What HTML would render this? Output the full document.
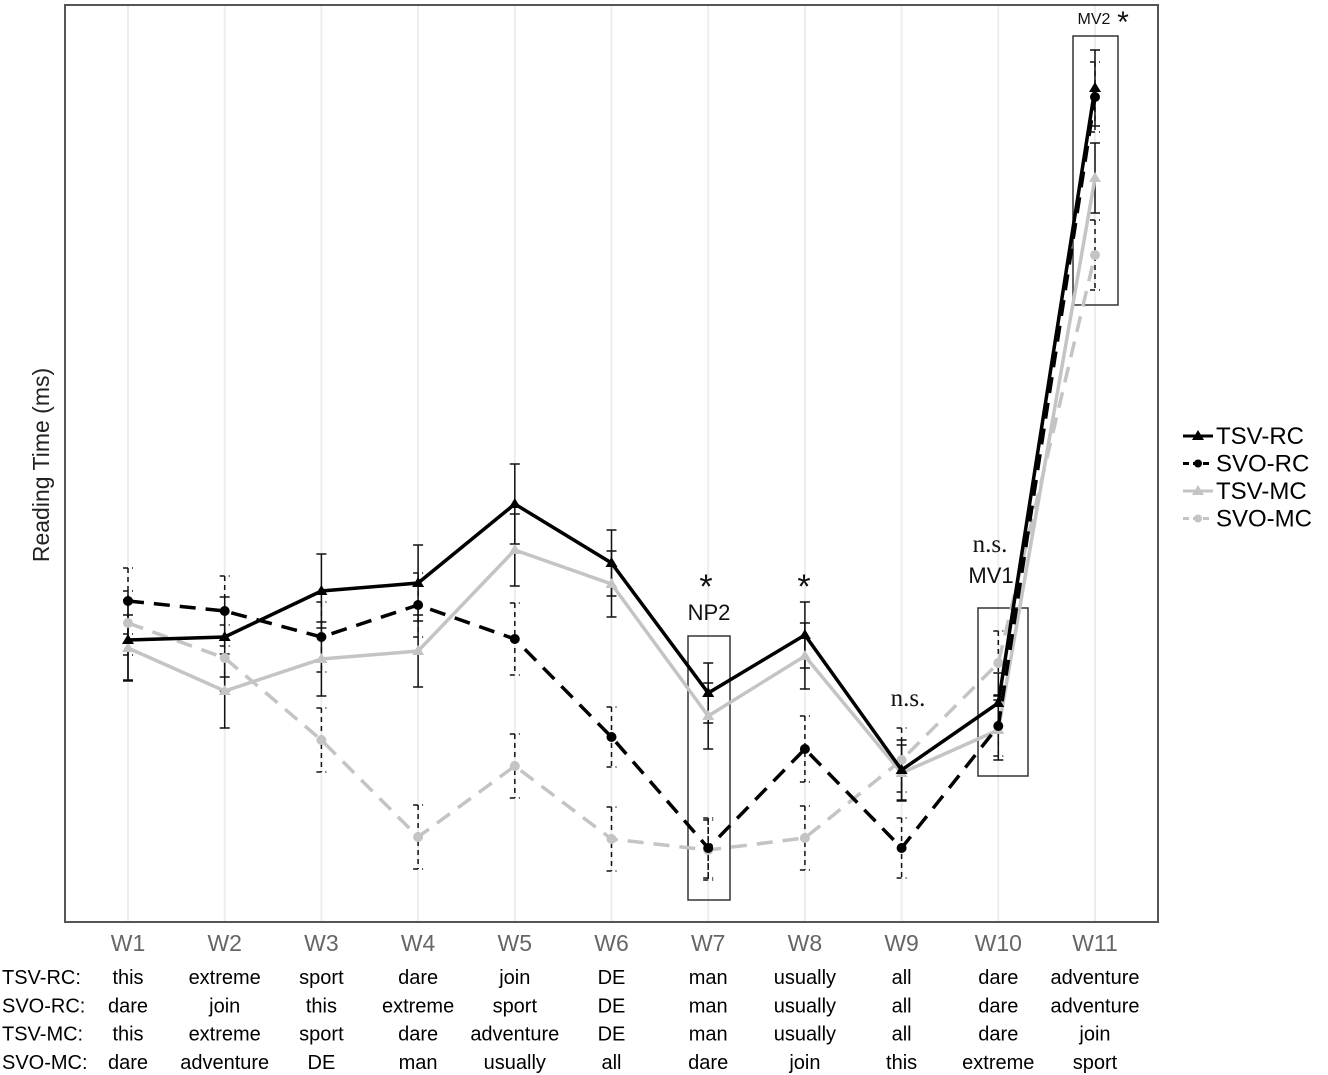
<!DOCTYPE html>
<html><head><meta charset="utf-8"><style>
body{margin:0;background:#fff;width:1328px;height:1075px;overflow:hidden}
svg{display:block}
</style></head><body>
<svg id="c" width="1328" height="1075" xmlns="http://www.w3.org/2000/svg">
<rect x="65" y="5" width="1093" height="917" fill="#fff" stroke="#555" stroke-width="2"/>
<g id="grid"></g><g id="boxes"></g><g id="series"></g><g id="anno"></g><g id="xlab"></g><g id="table"></g>
<text transform="translate(49,465) rotate(-90)" text-anchor="middle" font-family="Liberation Sans, sans-serif" font-size="23" fill="#222">Reading Time (ms)</text>
<g id="legend"></g>
</svg>
<script>
const categories=["W1","W2","W3","W4","W5","W6","W7","W8","W9","W10","W11"];
const tsvRC=[282,285,331,339,418,359,229,287,152,219,834];
const svoRC=[321,311,285,317,283,185,74,173,74,196,825];
const tsvMC=[274,231,263,271,372,338,206,266,149,192,744];
const svoMC=[299,264,182,85,156,83,72,84,162,259,667];
const errTSVRC=[40,40,37,38,40,33,30,33,30,30,38];
const errSVORC=[33,35,35,32,36,30,30,33,30,30,35];
const errTSVMC=[33,37,37,36,36,33,33,33,28,30,35];
const errSVOMC=[32,33,32,32,32,32,30,32,32,32,35];
const rowTSVRC=["this","extreme","sport","dare","join","DE","man","usually","all","dare","adventure"];
const rowSVORC=["dare","join","this","extreme","sport","DE","man","usually","all","dare","adventure"];
const rowTSVMC=["this","extreme","sport","dare","adventure","DE","man","usually","all","dare","join"];
const rowSVOMC=["dare","adventure","DE","man","usually","all","dare","join","this","extreme","sport"];
const NS="http://www.w3.org/2000/svg";
const X=i=>128+i*96.7, Y=v=>922-v;
function mk(p,tag,at){const e=document.createElementNS(NS,tag);for(const k in at)e.setAttribute(k,at[k]);document.getElementById(p).appendChild(e);return e;}
categories.forEach((c,i)=>{
 let g=mk('grid','line',{x1:X(i),x2:X(i),y1:6,y2:921,stroke:'#ededed','stroke-width':2});
 
 
 let t=mk('xlab','text',{x:X(i),y:951,'text-anchor':'middle','font-family':'Liberation Sans, sans-serif','font-size':23,fill:'#666'});
 t.textContent=c;
 
 
});
[[688,636,42,264],[978,608,50,168],[1073,36,45,269]].forEach((b,i)=>{
 let r=mk('boxes','rect',{x:b[0],y:b[1],width:b[2],height:b[3],fill:'none',stroke:'#333','stroke-width':1.5});
 
 
});
const S=[
 {n:'SVO-MC',d:svoMC,e:errSVOMC,c:'#c4c4c4',dash:'16,10',m:'c'},
 {n:'TSV-MC',d:tsvMC,e:errTSVMC,c:'#c4c4c4',dash:'',m:'t'},
 {n:'SVO-RC',d:svoRC,e:errSVORC,c:'#000',dash:'16,10',m:'c'},
 {n:'TSV-RC',d:tsvRC,e:errTSVRC,c:'#000',dash:'',m:'t'}];
S.forEach(s=>{
 s.d.forEach((v,i)=>{
  let e=mk('series','path',{d:`M${X(i)},${Y(v+s.e[i])}V${Y(v-s.e[i])}M${X(i)-5},${Y(v+s.e[i])}h10M${X(i)-5},${Y(v-s.e[i])}h10`,stroke:'#111','stroke-width':1.5,fill:'none','stroke-dasharray':s.dash?'5,4':''});
  
  
 });
});
S.forEach(s=>{
 let p=mk('series','polyline',{points:s.d.map((v,i)=>X(i)+','+Y(v)).join(' '),fill:'none',stroke:s.c,'stroke-width':3.5,'stroke-dasharray':s.dash});
 
 
 s.d.forEach((v,i)=>{
  let m=s.m=='c'?mk('series','circle',{cx:X(i),cy:Y(v),r:5,fill:s.c}):mk('series','path',{d:`M${X(i)},${Y(v)-6}l6,10h-12z`,fill:s.c});
  
  
 });
});
[['*',706,598,34,'Liberation Sans'],['NP2',709,620,22,'Liberation Sans'],['*',804,598,34,'Liberation Sans'],['n.s.',908,706,25,'Liberation Serif'],['n.s.',990,552,25,'Liberation Serif'],['MV1',991,583,22,'Liberation Sans'],['MV2',1094,24,16,'Liberation Sans'],['*',1123,32,30,'Liberation Sans']].forEach(a=>{
 let t=mk('anno','text',{x:a[1],y:a[2],'text-anchor':'middle','font-family':a[4]+', sans-serif','font-size':a[3],fill:'#111'});
 t.textContent=a[0];
 
 
});
const rows=[['TSV-RC:',rowTSVRC],['SVO-RC:',rowSVORC],['TSV-MC:',rowTSVMC],['SVO-MC:',rowSVOMC]];
rows.forEach((r,j)=>{
 let y=984+j*28.3;
 let l=mk('table','text',{x:2,y:y,'font-family':'Liberation Sans, sans-serif','font-size':20,fill:'#000'});
 l.textContent=r[0];
 
 
 r[1].forEach((w,i)=>{
  let t=mk('table','text',{x:X(i),y:y,'text-anchor':'middle','font-family':'Liberation Sans, sans-serif','font-size':20,fill:'#000'});
  t.textContent=w;
  
  
 });
});
[['TSV-RC','#000','',0],['SVO-RC','#000','6,4',1],['TSV-MC','#c4c4c4','',0],['SVO-MC','#c4c4c4','6,4',1]].forEach((L,k)=>{
 let y=436+k*27.5;
 let g=mk('legend','g',{});
 
 
 let ln=document.createElementNS(NS,'line');
 [['x1',1183],['x2',1213],['y1',y],['y2',y],['stroke',L[1]],['stroke-width',3],['stroke-dasharray',L[2]]].forEach(a=>ln.setAttribute(a[0],a[1]));g.appendChild(ln);
 let m=document.createElementNS(NS,L[3]?'circle':'path');
 if(L[3]){m.setAttribute('cx',1198);m.setAttribute('cy',y);m.setAttribute('r',4);}else m.setAttribute('d',`M1198,${y-6}l6,10h-12z`);
 m.setAttribute('fill',L[1]);g.appendChild(m);
 let t=document.createElementNS(NS,'text');
 t.setAttribute('x',1216);t.setAttribute('y',y+8);t.setAttribute('font-family','Liberation Sans, sans-serif');t.setAttribute('font-size',24);t.setAttribute('fill','#000');
 t.textContent=L[0];g.appendChild(t);
});
</script>
</body></html>
